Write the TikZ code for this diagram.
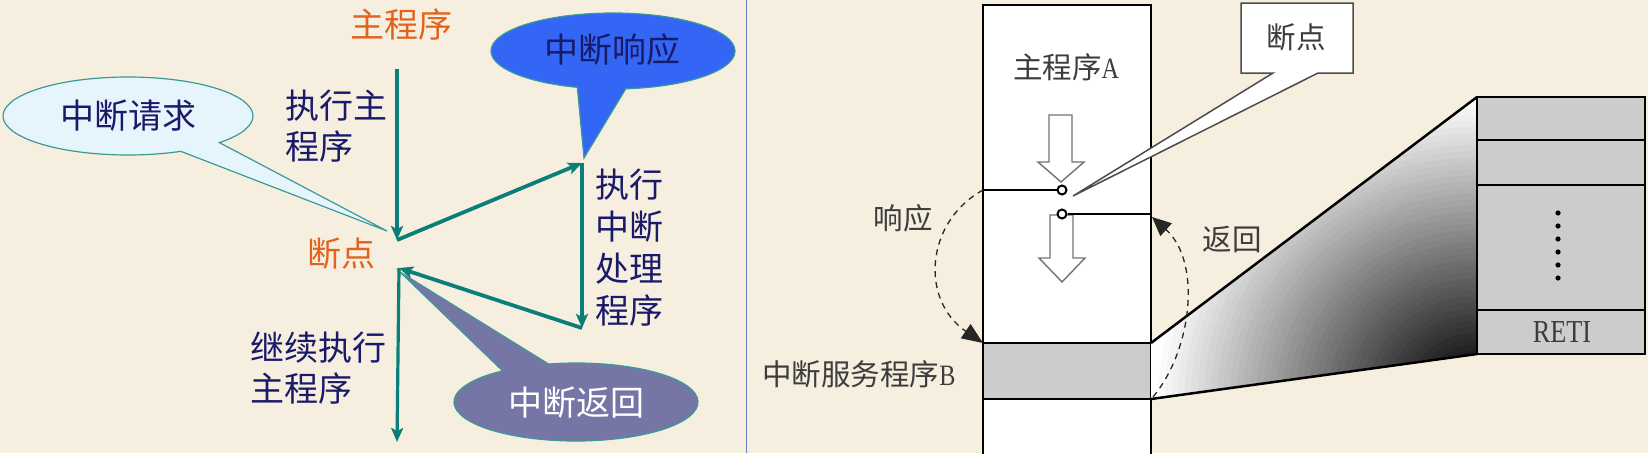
\documentclass[tikz,border=0pt]{standalone}
\usepackage{fontspec}
\newfontfamily\cjk{Noto Sans CJK SC}
\newfontfamily\lserif[FakeStretch=0.82]{Liberation Serif}
\usetikzlibrary{arrows.meta}
\definecolor{bg}{HTML}{F6EFE0}
\definecolor{teal1}{HTML}{0A7F78}
\definecolor{navy}{HTML}{1A1A6A}
\definecolor{orng}{HTML}{E2641C}
\definecolor{reqfill}{HTML}{E6F4FB}
\definecolor{resfill}{HTML}{3366F5}
\definecolor{retfill}{HTML}{7676A6}
\definecolor{edge}{HTML}{3A9A96}
\definecolor{txtgray}{HTML}{3C3C3C}
\definecolor{band}{HTML}{CCCCCC}
\definecolor{divider}{HTML}{6A7FC8}
\begin{document}
\begin{tikzpicture}[x=1pt,y=1pt,yscale=-1,
  flow/.style={draw=teal1, line width=3.2pt, -{Stealth[length=14pt,width=12pt,inset=3pt]}},
  diag/.style={flow, line width=3.8pt},
  lt/.style={font={\cjk\fontsize{34}{41}\selectfont}, text=navy, inner sep=0pt, align=left},
  ot/.style={font={\cjk\fontsize{34}{41}\selectfont}, text=orng, inner sep=0pt},
  rt/.style={font={\cjk\fontsize{29.5}{34}\selectfont}, text=txtgray, inner sep=0pt},
  callout/.style={draw=edge, line width=1.2pt},
  dashone/.style={draw=black!85, line width=1.3pt, dash pattern=on 6pt off 5pt},
  boxline/.style={draw=black, line width=2.5pt},
  hollow/.style={draw=black!55, line width=1.4pt, fill=white},
  dotc/.style={circle, draw=black, line width=2pt, fill=white, inner sep=0pt, minimum size=9pt}
]
\clip (0,0) rectangle (1648,453);
\fill[bg] (0,0) rectangle (1648,453);

% ---------------- left panel ----------------
% callouts
\path[callout, fill=reqfill] (128,116) ++(43:125 and 39)
  arc[start angle=43, end angle=-295, x radius=125, y radius=39] -- (387,231) -- cycle;
\path[callout, fill=resfill] (613,51) ++(84:122 and 38)
  arc[start angle=84, end angle=-253, x radius=122, y radius=38] -- (584,158) -- cycle;
\path[callout, fill=retfill] (576,402) ++(-103:122 and 39)
  arc[start angle=-103, end angle=233, x radius=122, y radius=39] -- (400,272) -- cycle;

\node[lt] (req) at (128,116) {中断请求};
\node[lt] (res) at (612,50) {中断响应};
\node[lt, text=white] (ret) at (576,403) {中断返回};

% flow
\coordinate (mTop) at (397,69);
\coordinate (bpIn) at (397,240);
\coordinate (isrTop) at (582,163);
\coordinate (isrBot) at (582,328);
\coordinate (bpOut) at (399,268);
\coordinate (mBot) at (397,442);
\draw[flow] (mTop) -- (bpIn);
\draw[diag] (bpIn) -- (isrTop);
\draw[flow] (isrTop) -- (isrBot);
\draw[diag] (isrBot) -- (bpOut);
\draw[flow] (bpOut) -- (mBot);

\node[ot] (mainlbl) at (401,25) {主程序};
\node[ot] (bplbl) at (341,254) {断点};
\node[lt, anchor=west] (exec1) at (285,126) {执行主\\程序};
\node[lt, anchor=west, font={\cjk\fontsize{34}{42}\selectfont}] (exec2) at (595,248) {执行\\中断\\处理\\程序};
\node[lt, anchor=west] (exec3) at (250,368.5) {继续执行\\主程序};

\draw[divider, line width=1pt] (746,0) -- (746,453);

% ---------------- right panel ----------------
\coordinate (aTL) at (983,5);
\coordinate (aBR) at (1151,470);
\fill[white] (aTL) rectangle (aBR);
\coordinate (bandTL) at (983,343);
\coordinate (bandTR) at (1151,343);
\coordinate (bandBL) at (983,399);
\coordinate (bandBR) at (1151,399);
\fill[band] (bandTL) rectangle (bandBR);
\draw[boxline] (aTL) rectangle (aBR);
\draw[boxline] (bandTL) -- (bandTR);
\draw[boxline] (bandBL) -- (bandBR);

% stack
\coordinate (sTL) at (1477,97);
\coordinate (sBR) at (1645,354);
\coordinate (sBL) at (1477,354);

% gradient wedge (elliptic gradient darkening towards the lower right)
\begin{scope}
\clip (bandTR) -- (sTL) -- (sBL) -- (bandBR) -- cycle;
\fill[white] (1140,90) rectangle (1490,410);
\foreach \k in {0,...,49} {
  \pgfmathsetmacro\gs{1-\k/50}
  \pgfmathsetmacro\gp{min(100,2.1*\k)}
  \fill[black!\gp] (1477,399) ellipse [x radius={325*\gs}, y radius={302*\gs}];
}
\end{scope}
\draw[boxline] (bandTR) -- (sTL);
\draw[boxline] (bandBR) -- (sBL);

\fill[band] (sTL) rectangle (sBR);
\draw[boxline] (sTL) rectangle (sBR);
\draw[boxline] (1477,140) -- (1645,140);
\draw[boxline] (1477,185) -- (1645,185);
\draw[boxline] (1477,310) -- (1645,310);
\foreach \yy in {213,226,239,252,265,278} \fill[black] (1558,\yy) circle (2.6);
\node[inner sep=0pt, text=txtgray, font={\lserif\fontsize{32}{34}\selectfont}] (reti) at (1562,332) {RETI};

% hollow arrows
\draw[hollow] (1049,115) -- (1072,115) -- (1072,162) -- (1084,162) -- (1061,182) -- (1038,162) -- (1049,162) -- cycle;
\draw[hollow] (1050,215) -- (1073,215) -- (1073,258) -- (1085,258) -- (1062,282) -- (1039,258) -- (1050,258) -- cycle;

\coordinate (lineL) at (983,190);
\coordinate (lineR) at (1151,214);
\node[dotc] (c1) at (1062,190) {};
\node[dotc] (c2) at (1062,214) {};
\draw[line width=2.2pt] (lineL) -- (c1.west);
\draw[line width=2.2pt] (c2.east) -- (lineR);

% breakpoint callout
\draw[fill=white, draw=black!70, line width=1.5pt] (1241,3) -- (1353,3) -- (1353,73) -- (1318,73) -- (1073,196) -- (1273,73) -- (1241,73) -- cycle;
\node[rt] (bpbox) at (1296,37) {断点};

% dashed curves
\draw[dashone, -{Triangle[length=21pt,width=17pt]}] (lineL) .. controls (925,222) and (920,300) .. (bandTL);
\coordinate (retStart) at (1153,397);
\coordinate (retEnd) at (1152,217);
\draw[dashone, -{Triangle[length=19pt,width=17pt]}] (retStart) .. controls (1192,350) and (1202,262) .. (retEnd);

\node[rt] (progA) at (1066,67) {主程序{\lserif A}};
\node[rt] (xy) at (903,218) {响应};
\node[rt] (fh) at (1232,240) {返回};
\node[rt] (isrB) at (859,374) {中断服务程序{\lserif B}};
\end{tikzpicture}
\end{document}
